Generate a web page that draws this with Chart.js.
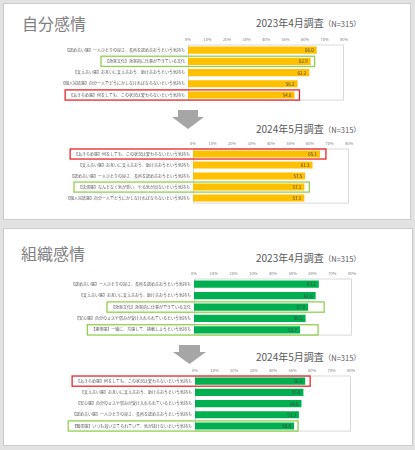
<!DOCTYPE html>
<html><head><meta charset="utf-8">
<script src="https://cdn.jsdelivr.net/npm/chart.js@4"></script>
<style>
html,body{margin:0;padding:0;}
body{width:415px;height:450px;background:#e2e2e2;position:relative;overflow:hidden;font-family:"Noto Sans CJK JP","Noto Sans",sans-serif;}
.panel{position:absolute;background:#fff;border:1px solid #cccccc;box-sizing:border-box;}
.ptitle{position:absolute;font-size:16px;color:#7f7f7f;line-height:1;white-space:nowrap;}
.stitle{position:absolute;font-size:10px;color:#595959;line-height:1;white-space:nowrap;}
.stitle small{font-size:7.5px;}
canvas{position:absolute;}
.arrow{position:absolute;}
</style></head><body>
<div class="panel" style="left:3px;top:3px;width:408px;height:217px"></div>
<div class="panel" style="left:3px;top:228px;width:410px;height:218px"></div>
<div class="ptitle" id="pt1" style="left:22px;top:15px"></div>
<div class="ptitle" id="pt2" style="left:21px;top:245px"></div>
<div class="stitle" id="st1" style="left:256px;top:18px"></div>
<div class="stitle" id="st2" style="left:256px;top:124px"></div>
<div class="stitle" id="st3" style="left:256px;top:253px"></div>
<div class="stitle" id="st4" style="left:256px;top:352px"></div>
<svg class="arrow" style="left:172px;top:110px" width="32" height="19"><polygon points="6,0 26,0 26,7 32,7 16,19 0,7 6,7" fill="#a6a6a6"/></svg>
<svg class="arrow" style="left:173px;top:345px" width="33" height="19"><polygon points="6,0 27,0 27,7 33,7 16.5,19 0,7 6,7" fill="#a6a6a6"/></svg>
<canvas id="c1"></canvas><canvas id="c2"></canvas><canvas id="c3"></canvas><canvas id="c4"></canvas>
<script>
// ---- data ----
const panelTitles = ["自分感情", "組織感情"];
const surveyTitles = ["2023年4月調査", "2024年5月調査", "2023年4月調査", "2024年5月調査"];
const sampleNote = "（N=315）";
const xTicks = [0, 10, 20, 30, 40, 50, 60, 70, 80];

const self2023Labels = [
  "【認め合い感】一人ひとりの良さ、長所を認め合おうという気持ち",
  "【効率文化】効率的に仕事ができている文化",
  "【支え合い感】お互いに支え合おう、助け合おうという気持ち",
  "【個人完結感】自分一人でどうにかしなければならないという気持ち",
  "【あきらめ感】何をしても、この状況は変わらないという気持ち"
];
const self2023Values = [66.0, 62.9, 62.2, 56.2, 54.6];

const self2024Labels = [
  "【あきらめ感】何をしても、この状況は変わらないという気持ち",
  "【支え合い感】お互いに支え合おう、助け合おうという気持ち",
  "【認め合い感】一人ひとりの良さ、長所を認め合おうという気持ち",
  "【沈滞感】なんとなく気が重い、やる気が出ないという気持ち",
  "【個人完結感】自分一人でどうにかしなければならないという気持ち"
];
const self2024Values = [65.1, 61.3, 57.5, 57.1, 57.1];

const org2023Labels = [
  "【認め合い感】一人ひとりの良さ、長所を認め合おうという気持ち",
  "【支え合い感】お互いに支え合おう、助け合おうという気持ち",
  "【効率文化】効率的に仕事ができている文化",
  "【安心感】自分のミスや弱みが受け入れられているという気持ち",
  "【連帯感】一緒に、共感して、挑戦しようという気持ち"
];
const org2023Values = [63.2, 61.6, 57.8, 56.5, 53.7];

const org2024Labels = [
  "【あきらめ感】何をしても、この状況は変わらないという気持ち",
  "【支え合い感】お互いに支え合おう、助け合おうという気持ち",
  "【安心感】自分のミスや弱みが受け入れられているという気持ち",
  "【認め合い感】一人ひとりの良さ、長所を認め合おうという気持ち",
  "【緊張感】いつも追い立てられていて、気が抜けないという気持ち"
];
const org2024Values = [56.5, 55.6, 54.6, 53.3, 50.8];

// ---- text ----
document.getElementById('pt1').textContent = panelTitles[0];
document.getElementById('pt2').textContent = panelTitles[1];
surveyTitles.forEach((t,i)=>{
  const el = document.getElementById('st'+(i+1));
  el.textContent = t;
  const s = document.createElement('small'); s.textContent = sampleNote; el.appendChild(s);
});

const FONT = '"Noto Sans CJK JP","Noto Sans",sans-serif';
const YELLOW = '#ffc000', GREEN = '#00b050', RED = '#e8262a', LGREEN = '#92d050';
const LABEL_PAD = 3, LABEL_SIZE = 4;

const decorPlugin = {
  id: 'decor',
  beforeDatasetsDraw(chart) {
    const {ctx, chartArea: a} = chart;
    ctx.save();
    ctx.strokeStyle = '#d9d9d9'; ctx.lineWidth = 1;
    ctx.strokeRect(a.left + 0.5, a.top + 0.5, a.width - 1, a.height - 1);
    ctx.restore();
  },
  afterDatasetsDraw(chart, args, opts) {
    const {ctx, chartArea: a} = chart;
    const meta = chart.getDatasetMeta(0);
    const vals = chart.data.datasets[0].data;
    ctx.save();
    ctx.font = '4.5px ' + FONT;
    ctx.fillStyle = '#404040';
    ctx.textAlign = 'right'; ctx.textBaseline = 'middle';
    meta.data.forEach((bar, i) => { ctx.fillText(vals[i].toFixed(1), bar.x - 3, bar.y + 0.3); });
    ctx.font = LABEL_SIZE + 'px ' + FONT;
    (opts.boxes || []).forEach(b => {
      const bar = meta.data[b.index];
      const w = ctx.measureText(chart.data.labels[b.index]).width;
      const right0 = a.left - LABEL_PAD;
      const left = right0 - w - 4;
      const right = bar.x + b.extra;
      const top = bar.y - bar.height / 2 - 1.5;
      const bottom = bar.y + bar.height / 2 + 1.5;
      ctx.strokeStyle = b.color; ctx.lineWidth = 1.3;
      ctx.strokeRect(left, top, right - left, bottom - top);
    });
    ctx.restore();
  }
};

function makeChart(id, canvasBox, area, labels, values, color, boxes) {
  const cv = document.getElementById(id);
  cv.style.left = canvasBox.x + 'px'; cv.style.top = canvasBox.y + 'px';
  cv.style.width = canvasBox.w + 'px'; cv.style.height = canvasBox.h + 'px';
  cv.width = canvasBox.w; cv.height = canvasBox.h;
  const yW = area.l - canvasBox.x, xH = area.t - canvasBox.y;
  return new Chart(cv, {
    type: 'bar',
    data: { labels: labels, datasets: [{ data: values, backgroundColor: color, borderWidth: 0,
      barPercentage: 0.64, categoryPercentage: 1 }] },
    options: {
      indexAxis: 'y', responsive: false, animation: false, devicePixelRatio: 1,
      layout: { padding: { left: 0, top: 0, right: canvasBox.x + canvasBox.w - area.r, bottom: canvasBox.y + canvasBox.h - area.b } },
      plugins: { legend: { display: false }, tooltip: { enabled: false }, decor: { boxes: boxes } },
      scales: {
        x: { position: 'top', min: 0, max: 80,
          afterBuildTicks: s => { s.ticks = xTicks.map(v => ({ value: v })); },
          afterFit: s => { s.height = xH; },
          grid: { display: false, drawTicks: false }, border: { display: false },
          ticks: { padding: 3, font: { size: 4, family: FONT }, color: '#7f7f7f', maxRotation: 0,
            callback: v => v + '%' } },
        y: { afterFit: s => { s.width = yW; },
          grid: { display: false, drawTicks: false }, border: { display: false },
          ticks: { padding: LABEL_PAD, font: { size: LABEL_SIZE, family: FONT }, color: '#595959', autoSkip: false } }
      }
    },
    plugins: [decorPlugin]
  });
}

makeChart('c1', {x:50, y:30, w:310, h:76}, {l:188, r:344, t:44.5, b:101.5}, self2023Labels, self2023Values, YELLOW,
  [{index:1, color:LGREEN, extra:4}, {index:4, color:RED, extra:5}]);
makeChart('c2', {x:50, y:133, w:310, h:76}, {l:193, r:349, t:148.5, b:204.5}, self2024Labels, self2024Values, YELLOW,
  [{index:0, color:RED, extra:6}, {index:3, color:LGREEN, extra:5}]);
makeChart('c3', {x:50, y:265, w:310, h:76}, {l:194, r:352, t:278.5, b:336}, org2023Labels, org2023Values, GREEN,
  [{index:2, color:LGREEN, extra:16}, {index:4, color:LGREEN, extra:18}]);
makeChart('c4', {x:50, y:361, w:310, h:76}, {l:195, r:351, t:375.5, b:432.5}, org2024Labels, org2024Values, GREEN,
  [{index:0, color:RED, extra:5}, {index:4, color:LGREEN, extra:4}]);
</script>
</body></html>
